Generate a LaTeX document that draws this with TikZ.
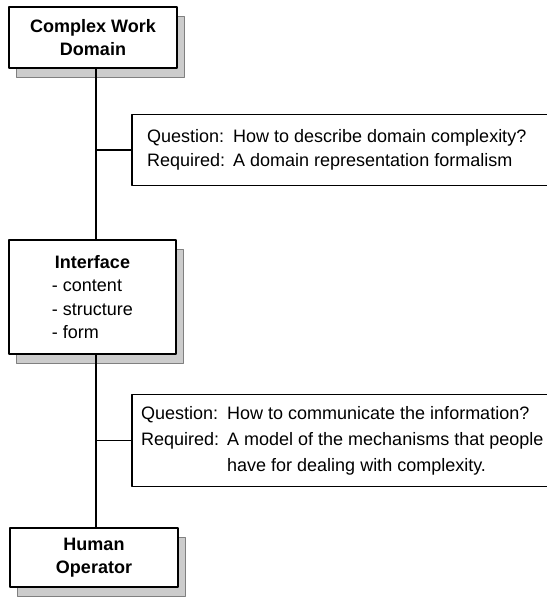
\documentclass[tikz,border=0pt]{standalone}
\usepackage{fontspec}
\setmainfont{Liberation Sans}
\usetikzlibrary{shadows}
\begin{document}
\begin{tikzpicture}[x=1pt,y=-1pt,line cap=round,line join=round,
    font=\fontsize{18}{23.5}\selectfont,
    unitbox/.style={draw,line width=1.2pt,fill=white,inner sep=0pt,
      drop shadow={shadow xshift=7pt,shadow yshift=-9pt,opacity=1,
        fill=black!20,draw=black!50,line width=0.5pt}},
    qbox/.style={anchor=west,inner ysep=0pt,align=left},
    frame/.style={line width=1.2pt},
    link/.style={line width=1.3pt}]
  \useasboundingbox (0,0) rectangle (547,598);
  \coordinate (trunk) at (96,0);
  \coordinate (edge) at (547,0);
  % units along the trunk
  \node[unitbox,minimum width=168pt,minimum height=61pt,align=center]
    (domain) at (93,37.5) {\textbf{Complex Work}\\\textbf{Domain}};
  \node[unitbox,minimum width=167pt,minimum height=114pt,align=left]
    (iface) at (92.5,297) {\hspace{3pt}\textbf{Interface}\\- content\\- structure\\- form};
  \node[unitbox,minimum width=168pt,minimum height=59pt,align=center]
    (operator) at (94,557.5) {\textbf{Human}\\\textbf{Operator}};
  % question boxes
  \node[qbox,minimum height=70pt,inner xsep=15pt,
    font=\fontsize{18}{24}\selectfont] (q1) at (132,150)
    {\begin{tabular}{@{}p{86pt}@{}l@{}}
      Question: & How to describe domain complexity?\\
      Required: & A domain representation formalism
    \end{tabular}};
  \node[qbox,minimum height=91pt,inner xsep=9pt,
    font=\fontsize{18}{26}\selectfont] (q2) at (132,440.5)
    {\begin{tabular}{@{}p{86pt}@{}l@{}}
      Question: & How to communicate the information?\\
      Required: & A model of the mechanisms that people\\
                & have for dealing with complexity.
    \end{tabular}};
  \draw[frame] (q1.north west -| edge) -- (q1.north west) -- (q1.south west) -- (q1.south west -| edge);
  \draw[frame] (q2.north west -| edge) -- (q2.north west) -- (q2.south west) -- (q2.south west -| edge);
  % connectors
  \draw[link] (domain.south -| trunk) -- (iface.north -| trunk);
  \draw[link] (iface.south -| trunk) -- (operator.north -| trunk);
  \draw[link] (q1.west) -- (q1.west -| trunk);
  \draw[link] (q2.west) -- (q2.west -| trunk);
\end{tikzpicture}
\end{document}
